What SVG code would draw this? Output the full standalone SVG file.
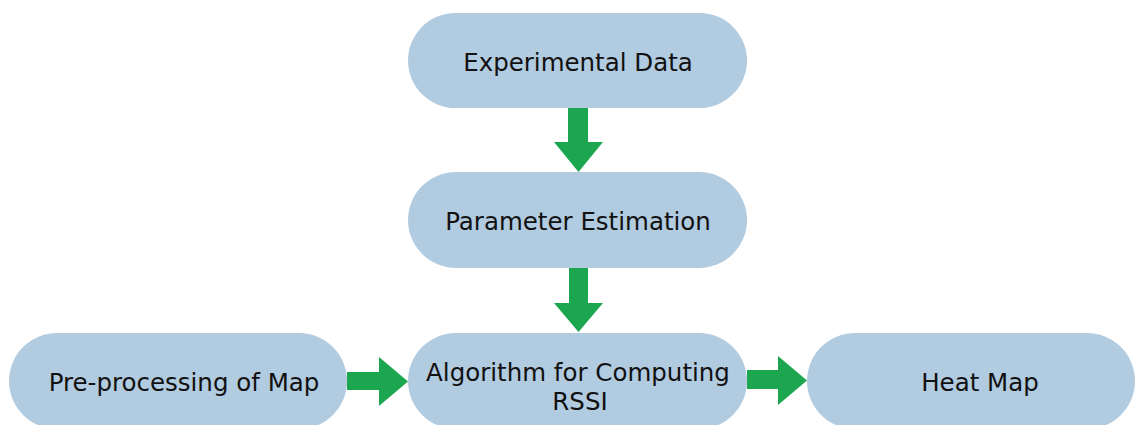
<svg xmlns="http://www.w3.org/2000/svg" width="1136" height="425" viewBox="0 0 1136 425">
<style>
.node{fill:#b1cbe0;}
.lbl{font-family:"DejaVu Sans",Verdana,sans-serif;font-size:24.5px;fill:#111111;text-anchor:middle;}
.arr{fill:#1ba64f;}
</style>
<rect width="1136" height="425" fill="#ffffff"/>
<g id="connectors">
<polygon class="arr" points="568,108 588,108 588,142 603,142 578.5,172 554,142 568,142"/>
<polygon class="arr" points="569,268 588,268 588,303 603,303 578.5,332 554,303 569,303"/>
<polygon class="arr" points="347,372 379,372 379,357 408,381.5 379,406 379,390 347,390"/>
<polygon class="arr" points="747,370 778,370 778,356 807,380.5 778,405 778,389 747,389"/>
</g>
<g id="experimental-data">
<rect class="node" x="408" y="13" width="339" height="95" rx="47.5"/>
<text class="lbl" x="578" y="71">Experimental Data</text>
</g>
<g id="parameter-estimation">
<rect class="node" x="408" y="172" width="339" height="96" rx="48"/>
<text class="lbl" x="578" y="230">Parameter Estimation</text>
</g>
<g id="pre-processing">
<rect class="node" x="9" y="333" width="338" height="96" rx="48"/>
<text class="lbl" x="184" y="391">Pre-processing of Map</text>
</g>
<g id="algorithm">
<rect class="node" x="408" y="333" width="339" height="96" rx="48"/>
<text class="lbl" x="578" y="381">Algorithm for Computing</text>
<text class="lbl" x="580" y="410">RSSI</text>
</g>
<g id="heat-map">
<rect class="node" x="807" y="333" width="328" height="96" rx="48"/>
<text class="lbl" x="980" y="391">Heat Map</text>
</g>
</svg>
